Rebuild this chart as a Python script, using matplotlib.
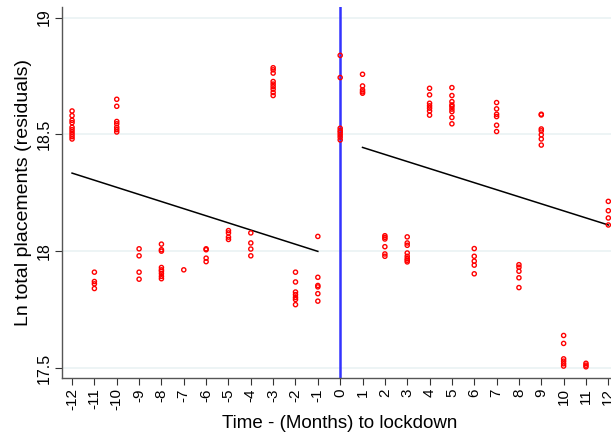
import numpy as np
import matplotlib
matplotlib.use("Agg")
import matplotlib.pyplot as plt

plt.rcParams['font.family'] = ['Liberation Sans', 'DejaVu Sans']

# residuals by month relative to lockdown
points = {
    -12: [18.60, 18.58, 18.56, 18.55, 18.53, 18.52, 18.51, 18.50, 18.49, 18.48],
    -11: [17.91, 17.87, 17.86, 17.84],
    -10: [18.65, 18.62, 18.555, 18.545, 18.53, 18.52, 18.51],
    -9: [18.01, 17.98, 17.91, 17.88],
    -8: [18.03, 18.006, 18.0, 17.93, 17.92, 17.914, 17.904, 17.892, 17.882],
    -7: [17.92],
    -6: [18.01, 18.006, 17.97, 17.955],
    -5: [18.088, 18.078, 18.06, 18.05],
    -4: [18.078, 18.035, 18.009, 17.98],
    -3: [18.785, 18.776, 18.762, 18.726, 18.715, 18.704, 18.693, 18.679, 18.666],
    -2: [17.91, 17.868, 17.825, 17.814, 17.802, 17.793, 17.771],
    -1: [18.063, 17.888, 17.853, 17.847, 17.818, 17.786],
    0: [18.838, 18.743, 18.526, 18.516, 18.508, 18.498, 18.488, 18.476],
    1: [18.757, 18.707, 18.69, 18.682, 18.676],
    2: [18.066, 18.059, 18.052, 18.019, 17.988, 17.978],
    3: [18.061, 18.035, 18.025, 17.992, 17.978, 17.968, 17.961, 17.954],
    4: [18.697, 18.669, 18.633, 18.622, 18.612, 18.60, 18.582],
    5: [18.70, 18.666, 18.64, 18.626, 18.619, 18.608, 18.597, 18.572, 18.545],
    6: [18.011, 17.978, 17.957, 17.94, 17.903],
    7: [18.636, 18.609, 18.586, 18.576, 18.539, 18.512],
    8: [17.942, 17.931, 17.914, 17.886, 17.844],
    9: [18.586, 18.583, 18.523, 18.515, 18.498, 18.48, 18.454],
    10: [17.639, 17.605, 17.539, 17.529, 17.518, 17.508],
    11: [17.52, 17.512, 17.505],
    12: [18.213, 18.173, 18.142, 18.112],
}

# linear fits before / after lockdown
fit_pre_x = [-12, -1]
fit_pre_y = [18.334, 17.999]
fit_post_x = [1, 12]
fit_post_y = [18.444, 18.112]

months = np.arange(-12, 13)
yticks = [17.5, 18, 18.5, 19]
ytick_labels = ['17.5', '18', '18.5', '19']

fig = plt.figure(figsize=(6.11, 4.37), dpi=100)
ax = fig.add_axes([62/611, 1 - 378/437, 1 - 62/611, (378 - 7)/437])

for y in yticks:
    ax.axhline(y, color='#eaf2f3', lw=1.2, zorder=0)

xs = np.concatenate([[m]*len(v) for m, v in points.items()])
ys = np.concatenate([v for v in points.values()])
ax.scatter(xs, ys, s=9, facecolors='none', edgecolors='red', linewidths=1.0, zorder=3)

ax.plot(fit_pre_x, fit_pre_y, color='black', lw=1.1, zorder=2)
ax.plot(fit_post_x, fit_post_y, color='black', lw=1.1, zorder=2)
ax.axvline(0, color='#3333ff', lw=1.8, zorder=2)

ax.set_xlim(-12.45, 12.12)
ax.set_ylim(17.457, 19.045)
ax.set_xticks(months)
ax.set_xticklabels([str(m) for m in months], rotation=90, fontsize=11)
ax.set_yticks(yticks)
ax.set_yticklabels(ytick_labels, rotation=90, va='center', fontsize=11.5)
ax.tick_params(direction='out', length=5, width=0.8, color='#333333', pad=2.5)

for s in ['top', 'right']:
    ax.spines[s].set_visible(False)
for s in ['left', 'bottom']:
    ax.spines[s].set_color('#555555')
    ax.spines[s].set_linewidth(1.0)

ax.set_xlabel('Time - (Months) to lockdown', fontsize=13.5)
ax.xaxis.set_label_coords(0.506, -0.1)
ax.set_ylabel('Ln total placements (residuals)', fontsize=14, labelpad=3)

fig.savefig('out.png', dpi=100)
